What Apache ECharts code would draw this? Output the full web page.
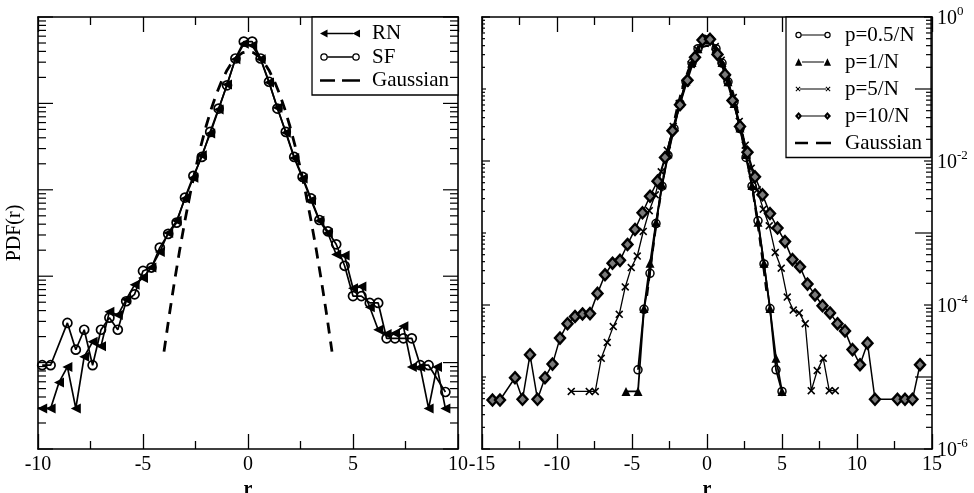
<!DOCTYPE html>
<html><head><meta charset="utf-8">
<script src="https://cdn.jsdelivr.net/npm/echarts@6.0.0/dist/echarts.min.js"></script>
<style>html,body{margin:0;padding:0;background:#fff}#c{width:974px;height:493px}</style>
</head><body><div id="c"></div>
<script>
// ---------------- data ----------------
// Left panel
const rRN = [-9.8,-9.4,-9.0,-8.6,-8.2,-7.8,-7.4,-7.0,-6.6,-6.2,-5.8,-5.4,-5.0,-4.6,-4.2,-3.8,-3.4,-3.0,-2.6,-2.2,-1.8,-1.4,-1.0,-0.6,-0.2,0.2,0.6,1.0,1.4,1.8,2.2,2.6,3.0,3.4,3.8,4.2,4.6,5.0,5.4,5.8,6.2,6.6,7.0,7.4,7.8,8.2,8.6,9.0,9.4];
const pRN = [2.95e-5,2.95e-5,5.89e-5,8.91e-5,2.95e-5,1.17e-4,1.74e-4,1.55e-4,3.89e-4,3.55e-4,5.37e-4,7.94e-4,9.55e-4,1.26e-3,1.91e-3,3.16e-3,4.37e-3,7.94e-3,0.0138,0.0251,0.0447,0.0851,0.166,0.324,0.490,0.468,0.324,0.174,0.0891,0.0457,0.0234,0.0135,7.59e-3,4.37e-3,3.16e-3,1.78e-3,1.74e-3,7.24e-4,7.59e-4,4.37e-4,2.40e-4,2.14e-4,2.19e-4,2.63e-4,8.91e-5,8.91e-5,2.95e-5,8.91e-5,2.95e-5];
const rSF = [-9.8,-9.4,-8.6,-8.2,-7.8,-7.4,-7.0,-6.6,-6.2,-5.8,-5.4,-5.0,-4.6,-4.2,-3.8,-3.4,-3.0,-2.6,-2.2,-1.8,-1.4,-1.0,-0.6,-0.2,0.2,0.6,1.0,1.4,1.8,2.2,2.6,3.0,3.4,3.8,4.2,4.6,5.0,5.4,5.8,6.2,6.6,7.0,7.4,7.8,8.2,8.6,9.4];
const pSF = [9.33e-5,9.33e-5,2.88e-4,1.41e-4,2.40e-4,9.33e-5,2.40e-4,3.31e-4,2.40e-4,5.13e-4,6.17e-4,1.15e-3,1.26e-3,2.14e-3,3.09e-3,4.17e-3,8.13e-3,0.0145,0.0240,0.0468,0.0871,0.162,0.331,0.52,0.52,0.331,0.178,0.0871,0.0468,0.0240,0.0141,7.94e-3,4.47e-3,3.31e-3,2.34e-3,1.32e-3,5.89e-4,5.89e-4,4.90e-4,4.90e-4,1.91e-4,1.91e-4,1.91e-4,1.91e-4,9.33e-5,9.33e-5,4.57e-5];
const rGauss = [-4,-3.75,-3.5,-3.25,-3,-2.75,-2.5,-2.25,-2,-1.75,-1.5,-1.25,-1,-0.75,-0.5,-0.25,0,0.25,0.5,0.75,1,1.25,1.5,1.75,2,2.25,2.5,2.75,3,3.25,3.5,3.75,4];
const pGauss = [1.34e-4,3.53e-4,8.73e-4,2.03e-3,4.43e-3,9.09e-3,0.0175,0.0317,0.0540,0.0863,0.1295,0.1826,0.2420,0.3011,0.3521,0.3867,0.3989,0.3867,0.3521,0.3011,0.2420,0.1826,0.1295,0.0863,0.0540,0.0317,0.0175,9.09e-3,4.43e-3,2.03e-3,8.73e-4,3.53e-4,1.34e-4];

// Right panel
const r05 = [-4.6,-4.2,-3.8,-3.4,-3.0,-2.6,-2.2,-1.8,-1.4,-1.0,-0.6,-0.2,0.2,0.6,1.0,1.4,1.8,2.2,2.6,3.0,3.4,3.8,4.2,4.6,5.0];
const p05 = [1.26e-5,8.71e-5,2.75e-4,1.35e-3,4.47e-3,0.0120,0.0282,0.0631,0.126,0.229,0.363,0.490,0.490,0.363,0.229,0.126,0.0661,0.0282,0.0112,4.47e-3,1.48e-3,3.72e-4,8.91e-5,1.26e-5,6.31e-6];
const r1 = [-5.4,-4.6,-4.2,-3.8,-3.4,-3.0,-2.6,-2.2,-1.8,-1.4,-1.0,-0.6,-0.2,0.2,0.6,1.0,1.4,1.8,2.2,2.6,3.0,3.4,3.8,4.2,4.6,5.0];
const p1 = [6.31e-6,6.31e-6,8.91e-5,3.80e-4,1.41e-3,4.68e-3,0.0126,0.0295,0.0646,0.129,0.234,0.363,0.479,0.490,0.363,0.234,0.126,0.0631,0.0288,0.0123,4.57e-3,1.41e-3,3.80e-4,8.91e-5,1.82e-5,6.31e-6];
const r5 = [-9.05,-7.85,-7.45,-7.05,-6.65,-6.25,-5.85,-5.45,-5.05,-4.65,-4.25,-3.85,-3.45,-3.05,-2.65,-2.25,-1.85,-1.45,-1.05,-0.65,-0.25,0.15,0.55,0.95,1.35,1.75,2.15,2.55,2.95,3.35,3.75,4.15,4.55,4.95,5.35,5.75,6.15,6.55,6.95,7.35,7.75,8.15,8.55];
const p5 = [6.31e-6,6.31e-6,6.31e-6,1.82e-5,3.02e-5,5.01e-5,7.41e-5,1.78e-4,3.31e-4,4.79e-4,1.05e-3,2.04e-3,3.39e-3,7.08e-3,0.0141,0.0302,0.0631,0.120,0.219,0.355,0.479,0.490,0.389,0.251,0.141,0.0759,0.0355,0.0166,7.94e-3,3.98e-3,2.14e-3,1.26e-3,5.37e-4,3.24e-4,1.29e-4,8.51e-5,7.76e-5,5.50e-5,6.46e-6,1.23e-5,1.82e-5,6.46e-6,6.46e-6];
const r10 = [-14.3,-13.8,-12.8,-12.3,-11.8,-11.3,-10.8,-10.3,-9.8,-9.3,-8.8,-8.3,-7.8,-7.3,-6.8,-6.3,-5.8,-5.3,-4.8,-4.3,-3.8,-3.3,-2.8,-2.3,-1.8,-1.3,-0.8,-0.3,0.2,0.7,1.2,1.7,2.2,2.7,3.2,3.7,4.2,4.7,5.2,5.7,6.2,6.7,7.2,7.7,8.2,8.7,9.2,9.7,10.2,10.7,11.2,12.7,13.2,13.7,14.2];
const p10 = [4.79e-6,4.79e-6,9.77e-6,4.90e-6,2.04e-5,4.90e-6,9.77e-6,1.51e-5,3.47e-5,5.50e-5,6.92e-5,7.50e-5,7.59e-5,1.45e-4,2.63e-4,3.80e-4,4.17e-4,6.92e-4,1.12e-3,1.91e-3,3.24e-3,5.25e-3,0.0112,0.0263,0.0603,0.132,0.275,0.479,0.490,0.302,0.158,0.0692,0.0302,0.0132,6.03e-3,3.39e-3,1.86e-3,1.17e-3,7.59e-4,4.27e-4,3.39e-4,1.95e-4,1.38e-4,9.77e-5,7.76e-5,5.50e-5,4.37e-5,2.40e-5,1.48e-5,2.95e-5,4.90e-6,4.90e-6,4.90e-6,4.90e-6,1.48e-5];

// axis ticks
const leftDecades = [-5,-4,-3,-2,-1,0];
const rightDecades = [-6,-5,-4,-3,-2,-1,0];
const minorMultiples = [2,3,4,5,6,7,8,9];
const rightLabelledDecades = [-6,-4,-2,0];

// ---------------- chart ----------------
const FONT = 'Liberation Serif';
const BLACK = '#000';
function pairs(xs, ys) { return xs.map((x, i) => [x, ys[i]]); }

function buildTicks(decades, xPos, majorTest) {
  const out = [];
  decades.forEach((d, k) => {
    out.push([xPos, Math.pow(10, d), majorTest(d) ? 1 : 0]);
    if (k < decades.length - 1) minorMultiples.forEach(m => out.push([xPos, m * Math.pow(10, d), 2]));
  });
  return out;
}
function tickRenderer(xMin, xMax, lens, lensOther) {
  return function (params, api) {
    const v = api.value(1), kind = api.value(2);
    const a = api.coord([xMin, v]), b = api.coord([xMax, v]);
    const L1 = lens[kind], L2 = lensOther[kind];
    const st = { stroke: BLACK, lineWidth: 1.2 };
    return { type: 'group', children: [
      { type: 'line', shape: { x1: a[0], y1: a[1], x2: a[0] + L1, y2: a[1] }, style: st },
      { type: 'line', shape: { x1: b[0], y1: b[1], x2: b[0] - L2, y2: b[1] }, style: st }
    ]};
  };
}

const axisLine = { show: true, onZero: false, lineStyle: { color: BLACK, width: 1.6 } };
const tickStyle = { color: BLACK, width: 1.3 };
function xAx(grid, min, max, pos, labels) {
  return {
    gridIndex: grid, type: 'value', min: min, max: max, interval: 5, position: pos,
    axisLine: axisLine,
    axisTick: { show: true, inside: true, length: 15, lineStyle: tickStyle },
    minorTick: { show: true, splitNumber: 2, length: 8, lineStyle: tickStyle },
    splitLine: { show: false }, minorSplitLine: { show: false },
    axisLabel: { show: labels, fontFamily: FONT, fontSize: 20, color: BLACK, margin: 6, lineHeight: 20, showMinLabel: true, showMaxLabel: true },
    name: labels ? 'r' : '', nameLocation: 'middle', nameGap: 21,
    nameTextStyle: { fontFamily: FONT, fontSize: 20, color: BLACK, fontWeight: 'bold' }
  };
}
function yAx(grid, min, pos, extra) {
  return Object.assign({
    gridIndex: grid, type: 'log', logBase: 10, min: min, max: 1, position: pos,
    axisLine: axisLine, axisTick: { show: false }, splitLine: { show: false },
    axisLabel: { show: false }
  }, extra || {});
}

const legendText = { fontFamily: FONT, fontSize: 21, color: BLACK, lineHeight: 21 };
const iconStyle = { color: BLACK, borderWidth: 0 };
// legend icons (line sample with a marker at each end)
const ICON = {
  RN: 'path://M0,5L7.5,1L7.5,9Z M7,4.3L33,4.3L33,5.7L7,5.7Z M32.5,5L40,1L40,9Z M0,0 M47,10',
  SF: 'path://M0.2,5A3.8,3.8 0 1 1 7.8,5A3.8,3.8 0 1 1 0.2,5Z M1.5,5A2.5,2.5 0 1 0 6.5,5A2.5,2.5 0 1 0 1.5,5Z M7.8,4.3L32.2,4.3L32.2,5.7L7.8,5.7Z M32.2,5A3.8,3.8 0 1 1 39.8,5A3.8,3.8 0 1 1 32.2,5Z M33.5,5A2.5,2.5 0 1 0 38.5,5A2.5,2.5 0 1 0 33.5,5Z M0,0 M47,10',
  G1: 'path://M0,3.7L15,3.7L15,6.3L0,6.3Z M22,3.7L40,3.7L40,6.3L22,6.3Z M0,0 M47,10',
  P05: 'path://M0.3,5A3.2,3.2 0 1 1 6.7,5A3.2,3.2 0 1 1 0.3,5Z M1.5,5A2,2 0 1 0 5.5,5A2,2 0 1 0 1.5,5Z M6.7,4.4L29.3,4.4L29.3,5.6L6.7,5.6Z M29.3,5A3.2,3.2 0 1 1 35.7,5A3.2,3.2 0 1 1 29.3,5Z M30.5,5A2,2 0 1 0 34.5,5A2,2 0 1 0 30.5,5Z M0,0 M45,10',
  P1: 'path://M0,8.8L3.6,1.2L7.2,8.8Z M7,4.4L29,4.4L29,5.6L7,5.6Z M28.8,8.8L32.4,1.2L36,8.8Z M0,0 M45,10',
  P5: 'path://M0.5,3.2L1.2,2.5L5.5,6.8L4.8,7.5Z M4.8,2.5L5.5,3.2L1.2,7.5L0.5,6.8Z M5,4.4L31,4.4L31,5.6L5,5.6Z M30.5,3.2L31.2,2.5L35.5,6.8L34.8,7.5Z M34.8,2.5L35.5,3.2L31.2,7.5L30.5,6.8Z M0,0 M45,10',
  P10: 'path://M0,5L3.6,1L7.2,5L3.6,9Z M3.6,4.2L2.8,5L3.6,5.8L4.4,5Z M7,4.4L29,4.4L29,5.6L7,5.6Z M28.8,5L32.4,1L36,5L32.4,9Z M32.4,4.2L31.6,5L32.4,5.8L33.2,5Z M0,0 M45,10',
  G2: 'path://M0,3.8L13,3.8L13,6.2L0,6.2Z M21,3.8L36,3.8L36,6.2L21,6.2Z M0,0 M45,10'
};
const XMARK = 'path://M0,1.4L1.4,0L5,3.6L8.6,0L10,1.4L6.4,5L10,8.6L8.6,10L5,6.4L1.4,10L0,8.6L3.6,5Z';

const option = {
  animation: false,
  backgroundColor: '#fff',
  grid: [
    { left: 38, top: 17, width: 420, height: 432, containLabel: false, outerBoundsMode: 'none' },
    { left: 482, top: 17, width: 450, height: 432, containLabel: false, outerBoundsMode: 'none' }
  ],
  xAxis: [ xAx(0, -10, 10, 'bottom', true), xAx(0, -10, 10, 'top', false), xAx(1, -15, 15, 'bottom', true), xAx(1, -15, 15, 'top', false) ],
  yAxis: [
    yAx(0, 1e-5, 'left', { name: 'PDF(r)', nameLocation: 'middle', nameRotate: 90, nameGap: 13,
      nameTextStyle: { fontFamily: FONT, fontSize: 20, color: BLACK } }),
    yAx(0, 1e-5, 'right'),
    yAx(1, 1e-6, 'left'),
    yAx(1, 1e-6, 'right', { axisLabel: {
      show: true, margin: 5, showMinLabel: true, showMaxLabel: true,
      formatter: function (v) {
        const e = Math.round(Math.log10(v));
        return rightLabelledDecades.indexOf(e) >= 0 ? '{b|10}{s|' + e + '}' : '';
      },
      rich: {
        b: { fontFamily: FONT, fontSize: 20, color: BLACK, lineHeight: 24, verticalAlign: 'bottom' },
        s: { fontFamily: FONT, fontSize: 13, color: BLACK, lineHeight: 14, verticalAlign: 'top' }
      }
    } })
  ],
  legend: [
    { orient: 'vertical', right: 516, top: 17, padding: [6, 9, 4, 8], itemWidth: 47, itemHeight: 10, itemGap: 2.5,
      borderColor: BLACK, borderWidth: 1.3, backgroundColor: '#fff', selectedMode: false, textStyle: legendText,
      data: [ { name: 'RN', icon: ICON.RN, itemStyle: iconStyle }, { name: 'SF', icon: ICON.SF, itemStyle: iconStyle }, { name: 'Gaussian', icon: ICON.G1, itemStyle: iconStyle } ] },
    { orient: 'vertical', right: 43, top: 17, padding: [7.5, 9, 4, 9], itemWidth: 45, itemHeight: 10, itemGap: 6,
      borderColor: BLACK, borderWidth: 1.3, backgroundColor: '#fff', selectedMode: false, textStyle: legendText,
      data: [ { name: 'p=0.5/N', icon: ICON.P05, itemStyle: iconStyle }, { name: 'p=1/N', icon: ICON.P1, itemStyle: iconStyle },
              { name: 'p=5/N', icon: ICON.P5, itemStyle: iconStyle }, { name: 'p=10/N', icon: ICON.P10, itemStyle: iconStyle },
              { name: 'Gaussian', icon: ICON.G2, itemStyle: iconStyle } ] }
  ],
  series: [
    { name: 'ticksL', type: 'custom', xAxisIndex: 0, yAxisIndex: 0, silent: true, z: 5,
      data: buildTicks(leftDecades, -10, () => true), encode: { x: 0, y: 1 },
      renderItem: tickRenderer(-10, 10, [15, 15, 8], [15, 15, 8]) },
    { name: 'ticksR', type: 'custom', xAxisIndex: 2, yAxisIndex: 2, silent: true, z: 5,
      data: buildTicks(rightDecades, -15, d => rightLabelledDecades.indexOf(d) >= 0), encode: { x: 0, y: 1 },
      renderItem: tickRenderer(-15, 15, [4, 8, 3], [17, 8, 6]) },

    { name: 'Gaussian', type: 'line', xAxisIndex: 0, yAxisIndex: 0, data: pairs(rGauss, pGauss), symbol: 'none', silent: true,
      lineStyle: { color: BLACK, width: 2.8, type: [11, 8] }, z: 2 },
    { name: 'RN', type: 'line', xAxisIndex: 0, yAxisIndex: 0, data: pairs(rRN, pRN), symbol: 'triangle', symbolRotate: 90, symbolSize: [10, 10], silent: true,
      itemStyle: { color: BLACK }, lineStyle: { color: BLACK, width: 1.7 }, z: 3 },
    { name: 'SF', type: 'line', xAxisIndex: 0, yAxisIndex: 0, data: pairs(rSF, pSF), symbol: 'circle', symbolSize: 9, silent: true,
      itemStyle: { color: 'rgba(0,0,0,0)', borderColor: BLACK, borderWidth: 1.7 }, lineStyle: { color: BLACK, width: 1.7 }, z: 3 },

    { name: 'Gaussian', type: 'line', xAxisIndex: 2, yAxisIndex: 2, data: pairs(rGauss, pGauss), symbol: 'none', silent: true,
      lineStyle: { color: BLACK, width: 2.2, type: [9, 6] }, z: 2 },
    { name: 'p=0.5/N', type: 'line', xAxisIndex: 2, yAxisIndex: 2, data: pairs(r05, p05), symbol: 'circle', symbolSize: 8, silent: true,
      itemStyle: { color: 'rgba(0,0,0,0)', borderColor: BLACK, borderWidth: 1.5 }, lineStyle: { color: BLACK, width: 1.8 }, z: 3 },
    { name: 'p=1/N', type: 'line', xAxisIndex: 2, yAxisIndex: 2, data: pairs(r1, p1), symbol: 'triangle', symbolSize: 9, silent: true,
      itemStyle: { color: BLACK }, lineStyle: { color: BLACK, width: 1.8 }, z: 3 },
    { name: 'p=5/N', type: 'line', xAxisIndex: 2, yAxisIndex: 2, data: pairs(r5, p5), symbol: XMARK, symbolSize: 8, silent: true,
      itemStyle: { color: BLACK }, lineStyle: { color: BLACK, width: 1.3 }, z: 3 },
    { name: 'p=10/N', type: 'line', xAxisIndex: 2, yAxisIndex: 2, data: pairs(r10, p10), symbol: 'diamond', symbolSize: [10, 11], silent: true,
      itemStyle: { color: '#7a7a7a', borderColor: BLACK, borderWidth: 2.4 }, lineStyle: { color: BLACK, width: 1.5 }, z: 3 }
  ]
};
const chart = echarts.init(document.getElementById('c'), null, { renderer: 'canvas' });
chart.setOption(option);
</script></body></html>
